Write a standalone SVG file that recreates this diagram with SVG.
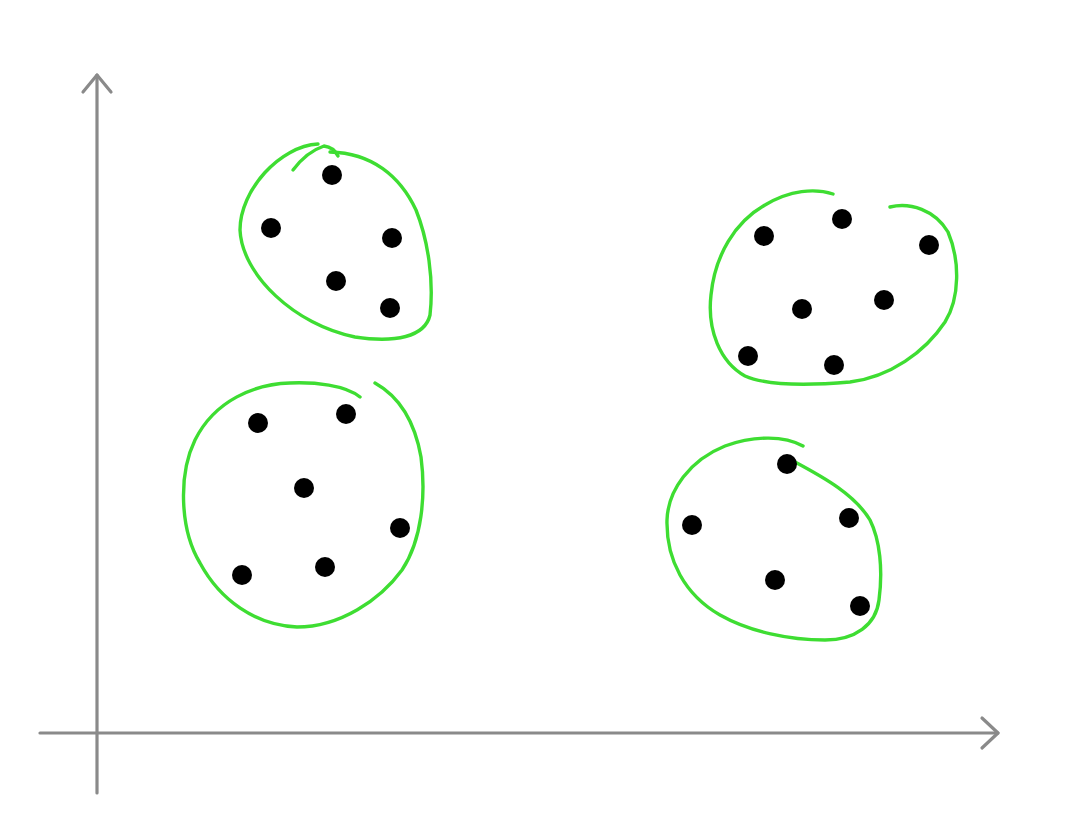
<svg xmlns="http://www.w3.org/2000/svg" width="1091" height="832" viewBox="0 0 1091 832">
<style>
.axis{fill:none;stroke:#8a8a8a;stroke-width:3.2;stroke-linecap:round;stroke-linejoin:round}
.loop{fill:none;stroke:#3edd32;stroke-width:3.4;stroke-linecap:round;stroke-linejoin:round}
.dot{fill:#000}
</style>
<rect width="1091" height="832" fill="#fff"/>
<g id="axes">
<path class="axis" d="M97,793 L97,75"/>
<path class="axis" d="M83,92 L97,75 L111,92"/>
<path class="axis" d="M40,733 L998,733"/>
<path class="axis" d="M982,718 L998,733 L982,748"/>
</g>
<g id="cluster-top-left">
<path class="loop" d="M293,170 C302,158 312,150 324,146 C332,147 336,152 338,156"/>
<path class="loop" d="M318,144 C280,146 240,190 240,230 C242,275 295,325 355,337 C395,343 425,337 430,315 C434,280 428,240 416,210 C400,176 372,153 330,152"/>
<circle class="dot" cx="332" cy="175" r="10"/>
<circle class="dot" cx="271" cy="228" r="10"/>
<circle class="dot" cx="392" cy="238" r="10"/>
<circle class="dot" cx="336" cy="281" r="10"/>
<circle class="dot" cx="390" cy="308" r="10"/>
</g>
<g id="cluster-bottom-left">
<path class="loop" d="M360,397 C345,385 315,382 290,383 C255,384 215,400 195,440 C178,475 180,530 200,563 C220,600 255,625 297,627 C340,627 380,600 402,570 C422,540 426,495 421,457 C415,423 400,397 375,383"/>
<circle class="dot" cx="258" cy="423" r="10"/>
<circle class="dot" cx="346" cy="414" r="10"/>
<circle class="dot" cx="304" cy="488" r="10"/>
<circle class="dot" cx="400" cy="528" r="10"/>
<circle class="dot" cx="242" cy="575" r="10"/>
<circle class="dot" cx="325" cy="567" r="10"/>
</g>
<g id="cluster-top-right">
<path class="loop" d="M833,194 C815,188 790,190 765,205 C735,222 715,255 711,295 C707,330 720,362 745,376 C770,387 815,385 850,382 C890,377 925,352 945,322 C960,298 960,260 948,232 C935,210 910,202 890,207"/>
<circle class="dot" cx="764" cy="236" r="10"/>
<circle class="dot" cx="842" cy="219" r="10"/>
<circle class="dot" cx="929" cy="245" r="10"/>
<circle class="dot" cx="802" cy="309" r="10"/>
<circle class="dot" cx="884" cy="300" r="10"/>
<circle class="dot" cx="748" cy="356" r="10"/>
<circle class="dot" cx="834" cy="365" r="10"/>
</g>
<g id="cluster-bottom-right">
<path class="loop" d="M803,446 C785,436 755,435 725,446 C690,460 668,490 667,520 C666,560 685,595 720,615 C750,632 790,640 825,640 C855,640 876,625 879,600 C883,570 880,540 870,520 C855,495 825,478 795,462"/>
<circle class="dot" cx="787" cy="464" r="10"/>
<circle class="dot" cx="692" cy="525" r="10"/>
<circle class="dot" cx="849" cy="518" r="10"/>
<circle class="dot" cx="775" cy="580" r="10"/>
<circle class="dot" cx="860" cy="606" r="10"/>
</g>
</svg>
